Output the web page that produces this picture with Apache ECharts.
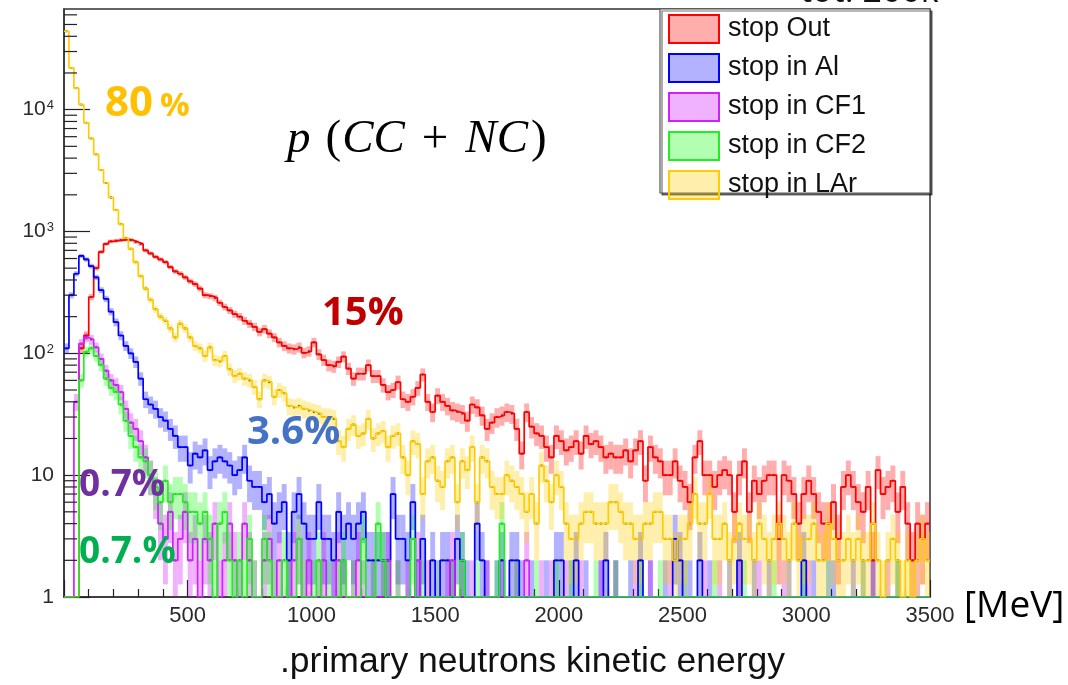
<!DOCTYPE html>
<html><head><meta charset="utf-8">
<script src="https://cdn.jsdelivr.net/npm/echarts@6/dist/echarts.min.js"></script>
<style>html,body{margin:0;padding:0;background:#fff}#c{width:1068px;height:685px}</style>
</head><body><div id="c"></div>
<script>
// ---- data (counts per 20 MeV bin, 0..3500 MeV) ----
const BIN_WIDTH = 20;
const X_MIN = 0, X_MAX = 3500;
const Y_MIN = 1, Y_MAX = 67000;
const seriesNames = ['stop Out', 'stop in Al', 'stop in CF1', 'stop in CF2', 'stop in LAr'];

const stopOut = [
  0, 0, 0, 110, 140, 290, 500, 680, 790, 830,
  840, 850, 860, 850, 820, 790, 700, 660, 620, 590,
  560, 510, 470, 450, 420, 390, 370, 340, 300, 295,
  285, 260, 240, 225, 210, 200, 185, 175, 165, 150,
  158, 145, 135, 123, 115, 110, 108, 112, 101, 104,
  123, 98, 88, 80, 78, 85, 94, 75, 62, 68,
  68, 80, 65, 65, 55, 48, 50, 58, 42, 40,
  44, 52, 67, 40, 33, 45, 40, 37, 34, 33,
  32, 28, 38, 36, 31, 24, 27, 30, 31, 33,
  32, 24, 15, 33, 25, 22, 21, 17, 14, 21,
  19, 16, 17, 19, 15, 21, 18, 19, 17, 14,
  15, 14, 14, 16, 13, 16, 19, 9, 17, 14,
  13, 10, 10, 13, 9, 8, 6, 14, 19, 10,
  10, 8, 10, 11, 10, 5, 10, 13, 5, 9,
  7, 9, 10, 10, 3, 10, 9, 7, 4, 7,
  9, 7, 5, 4, 4, 6, 3, 8, 10, 8,
  6, 5, 8, 2, 11, 7, 8, 9, 5, 8,
  4, 2, 4, 3, 4
];
const stopAl = [
  110, 300, 450, 630, 590, 520, 420, 330, 280, 220,
  180, 140, 115, 100, 85, 62, 42, 38, 35, 30,
  28, 24, 21, 17, 17, 12, 15, 14, 16, 11,
  13, 14, 13, 12, 10, 11, 14, 9, 8, 8,
  6, 7, 4, 5, 6, 2, 5, 7, 4, 3,
  3, 6, 3, 3, 2, 5, 3, 4, 3, 4,
  5, 2, 2, 2, 2, 2, 7, 3, 3, 2,
  6, 1, 3, 0, 2, 0, 2, 2, 1, 3,
  2, 1, 0, 4, 2, 1, 0, 1, 2, 0,
  2, 2, 1, 0, 1, 0, 0, 1, 0, 2,
  2, 0, 1, 2, 0, 1, 0, 0, 1, 2,
  0, 1, 0, 0, 1, 0, 2, 0, 1, 0,
  0, 1, 0, 3, 2, 0, 1, 0, 2, 0,
  1, 0, 0, 0, 1, 0, 2, 0, 0, 1,
  0, 0, 1, 0, 0, 0, 1, 0, 0, 2,
  0, 1, 0, 0, 0, 1, 0, 0, 0, 1,
  0, 0, 0, 1, 0, 0, 0, 0, 1, 0,
  0, 0, 0, 0, 0
];
const stopCF1 = [
  0, 0, 40, 120, 135, 130, 112, 90, 72, 60,
  55, 48, 35, 27, 24, 19, 14, 10, 7, 4,
  3, 5, 2, 3, 5, 2, 3, 1, 3, 2,
  4, 1, 2, 4, 2, 1, 4, 2, 1, 0,
  2, 3, 1, 2, 0, 1, 2, 3, 1, 2,
  0, 1, 2, 0, 1, 2, 1, 0, 1, 2,
  1, 0, 1, 0, 1, 2, 0, 1, 0, 1,
  0, 2, 0, 1, 0, 1, 0, 1, 2, 0,
  1, 0, 1, 0, 0, 1, 0, 0, 1, 0,
  0, 1, 0, 2, 0, 0, 1, 0, 1, 0,
  0, 1, 0, 0, 1, 0, 0, 0, 1, 0,
  0, 1, 0, 0, 0, 1, 0, 0, 1, 0,
  0, 0, 1, 0, 0, 1, 0, 0, 0, 1,
  0, 0, 1, 0, 0, 0, 1, 0, 0, 0,
  1, 0, 0, 0, 0, 1, 0, 0, 0, 0,
  1, 0, 0, 0, 1, 0, 0, 0, 0, 0,
  0, 1, 0, 0, 0, 0, 1, 0, 0, 0,
  0, 0, 1, 0, 0
];
const stopCF2 = [
  0, 0, 0, 60, 103, 110, 95, 80, 62, 52,
  48, 38, 28, 21, 17, 14, 13, 10, 8, 6,
  9, 6, 7, 7, 6, 5, 5, 4, 5, 3,
  1, 4, 5, 2, 1, 2, 1, 3, 1, 0,
  3, 2, 1, 0, 2, 1, 0, 3, 1, 0,
  1, 2, 0, 1, 0, 1, 2, 0, 1, 0,
  3, 0, 1, 4, 2, 1, 0, 1, 0, 0,
  3, 0, 1, 0, 0, 1, 0, 0, 1, 0,
  2, 0, 0, 1, 0, 0, 0, 1, 4, 0,
  0, 1, 0, 0, 0, 1, 0, 0, 0, 1,
  0, 0, 1, 0, 0, 0, 0, 1, 0, 0,
  0, 1, 0, 0, 0, 0, 1, 0, 0, 0,
  1, 0, 0, 0, 0, 1, 0, 0, 0, 0,
  0, 1, 0, 0, 0, 0, 0, 1, 0, 0,
  0, 0, 0, 1, 0, 0, 0, 0, 0, 1,
  0, 0, 0, 0, 1, 0, 0, 0, 0, 0,
  0, 1, 0, 0, 0, 0, 0, 0, 1, 0,
  0, 0, 0, 0, 0
];
const stopLAr = [
  44000, 22000, 15000, 11000, 7800, 5800, 4300, 3200, 2500, 1900,
  1500, 1150, 880, 720, 560, 430, 340, 275, 230, 200,
  185, 160, 135, 175, 160, 135, 115, 110, 95, 112,
  88, 86, 95, 74, 65, 68, 62, 60, 53, 42,
  60, 58, 44, 50, 47, 37, 36, 37, 35, 34,
  33, 32, 30, 30, 29, 19, 17, 24, 26, 21,
  22, 29, 20, 22, 23, 17, 21, 22, 14, 10,
  19, 18, 7, 13, 14, 9, 8, 13, 14, 6,
  13, 11, 17, 6, 14, 13, 8, 7, 7, 10,
  9, 8, 7, 5, 7, 4, 12, 9, 6, 10,
  8, 4, 3, 3, 4, 5, 5, 4, 4, 4,
  6, 6, 5, 4, 4, 3, 3, 4, 4, 5,
  5, 3, 3, 2, 3, 3, 4, 7, 4, 4,
  7, 3, 3, 4, 2, 3, 4, 3, 3, 2,
  4, 3, 2, 3, 4, 3, 2, 4, 2, 3,
  3, 4, 2, 2, 4, 3, 2, 2, 3, 2,
  3, 2, 2, 4, 2, 1, 2, 3, 2, 1,
  2, 1, 2, 3, 2
];
const datasets = [stopOut, stopAl, stopCF1, stopCF2, stopLAr];

const lineColors = ['#ff0000', '#0000ff', '#cc22ff', '#22ee22', '#ffcc00'];
const bandColors = ['rgba(255,0,0,0.32)', 'rgba(0,0,255,0.3)', 'rgba(204,0,255,0.3)', 'rgba(0,255,0,0.3)', 'rgba(255,204,0,0.32)'];

// ---- build series ----
const series = [];
datasets.forEach((vals, k) => {
  const name = seriesNames[k];
  const bandData = [];
  const lineData = [];
  const markData = [];
  vals.forEach((v, i) => {
    const x0 = X_MIN + i * BIN_WIDTH, x1 = x0 + BIN_WIDTH;
    if (v > 0) bandData.push([x0, x1, v]);
    lineData.push([x0, Math.max(v, Y_MIN)]);
    if (v > 0) markData.push([x0 + BIN_WIDTH / 2, Math.max(v, Y_MIN)]);
  });
  lineData.push([X_MIN + vals.length * BIN_WIDTH, Math.max(vals[vals.length - 1], Y_MIN)]);
  series.push({
    name, type: 'custom', silent: true,
    data: bandData,
    encode: { x: [0, 1], y: 2 },
    renderItem: (params, api) => {
      const a = api.value(0), b = api.value(1), v = api.value(2);
      const e = Math.sqrt(v);
      const hi = Math.min(v + e, Y_MAX);
      const lo = Math.max(v - e, Y_MIN);
      const p1 = api.coord([a, hi]);
      const p2 = api.coord([b, lo]);
      return { type: 'rect', shape: { x: p1[0], y: p1[1], width: p2[0] - p1[0], height: p2[1] - p1[1] },
        style: { fill: bandColors[k] } };
    }
  });
  series.push({
    name, type: 'line', step: 'end', data: lineData, showSymbol: false, silent: true,
    lineStyle: { color: lineColors[k], width: 1.7 }, itemStyle: { color: lineColors[k] }
  });
  series.push({
    name, type: 'scatter', data: markData, symbol: 'rect', symbolSize: [2, 2], silent: true,
    itemStyle: { color: '#222' }
  });
});

// y-axis minor ticks at 2..9 x 10^k (drawn through the axis scale)
const minorTickValues = [];
for (let e = 0; e <= 4; e++) for (let m = 2; m <= 9; m++) { const t = m * Math.pow(10, e); if (t < Y_MAX) minorTickValues.push([X_MIN, t]); }
series.push({
  type: 'custom', silent: true, data: minorTickValues, encode: { x: 0, y: 1 }, z: 5,
  renderItem: (params, api) => {
    const p = api.coord([api.value(0), api.value(1)]);
    return { type: 'line', shape: { x1: p[0], y1: p[1], x2: p[0] + 13, y2: p[1] }, style: { stroke: '#222', lineWidth: 1.2 } };
  }
});

const chart = echarts.init(document.getElementById('c'), null, { renderer: 'canvas' });
chart.setOption({
  animation: false,
  backgroundColor: '#fff',
  grid: { left: 64, right: 138, top: 9, bottom: 88, show: true, borderColor: '#333', borderWidth: 1.5 },
  xAxis: {
    type: 'value', min: X_MIN, max: X_MAX, interval: 500,
    axisLine: { show: true, lineStyle: { color: '#333', width: 1.5 } },
    axisTick: { inside: true, length: 17, lineStyle: { color: '#222', width: 1.2 } },
    minorTick: { show: true, splitNumber: 5, length: 8, lineStyle: { color: '#222', width: 1.2 } },
    splitLine: { show: false },
    axisLabel: { margin: 8, color: '#2a2a2a', fontSize: 22, fontFamily: 'Liberation Sans',
      formatter: v => (v === 0 ? '' : String(v)) }
  },
  yAxis: {
    type: 'log', logBase: 10, min: Y_MIN, max: Y_MAX,
    axisLine: { show: true, lineStyle: { color: '#333', width: 1.5 } },
    axisTick: { inside: true, length: 26, lineStyle: { color: '#222', width: 1.2 } },
    splitLine: { show: false },
    axisLabel: {
      margin: 10, color: '#2a2a2a', fontSize: 21, fontFamily: 'Liberation Sans', showMaxLabel: false,
      formatter: v => {
        const e = Math.round(Math.log10(v));
        if (Math.abs(Math.pow(10, e) - v) > 1e-6 * v) return '';
        if (e === 0) return '{b|1}';
        if (e === 1) return '{b|10}';
        return '{b|10}{s|' + e + '}';
      },
      rich: {
        b: { fontSize: 21, fontFamily: 'Liberation Sans', color: '#2a2a2a' },
        s: { fontSize: 13, fontFamily: 'Liberation Sans', color: '#2a2a2a', padding: [0, 0, 8, 1] }
      }
    }
  },
  legend: {
    orient: 'vertical', left: 660, top: 9, z: 20,
    padding: [5, 8, 3, 8], itemWidth: 50, itemHeight: 28, itemGap: 9,
    selectedMode: false,
    textStyle: { fontSize: 27, fontFamily: 'Liberation Sans', color: '#111', padding: [0, 0, 0, 4] },
    data: seriesNames.map((n, k) => ({
      name: n, icon: 'rect',
      itemStyle: { color: bandColors[k], borderColor: lineColors[k], borderWidth: 2 }
    }))
  },
  graphic: [
    { type: 'rect', z: 10, shape: { x: 660, y: 9, width: 270, height: 184 },
      style: { fill: '#fff', stroke: '#555', lineWidth: 1.2, shadowColor: 'rgba(0,0,0,0.55)', shadowOffsetX: 2, shadowOffsetY: 2, shadowBlur: 0 } },
    { type: 'text', z: 30, x: 800, y: 9, style: { text: 'tot: 200k', fontSize: 34, fontFamily: 'Open Sans', fill: '#111', align: 'left', verticalAlign: 'bottom' } },
    { type: 'text', z: 30, x: 105, y: 104, style: { text: '80', fontSize: 42, fontWeight: 'bold', fontFamily: 'Open Sans', fill: '#FFC000', align: 'left', verticalAlign: 'middle' } },
    { type: 'text', z: 30, x: 160, y: 107, style: { text: '%', fontSize: 33, fontWeight: 'bold', fontFamily: 'Open Sans', fill: '#FFC000', align: 'left', verticalAlign: 'middle' } },
    { type: 'text', z: 30, x: 322, y: 314, style: { text: '15%', fontSize: 40, fontWeight: 'bold', fontFamily: 'Open Sans', fill: '#C00000', align: 'left', verticalAlign: 'middle' } },
    { type: 'text', z: 30, x: 247, y: 433, style: { text: '3.6%', fontSize: 40, fontWeight: 'bold', fontFamily: 'Open Sans', fill: '#4472C4', align: 'left', verticalAlign: 'middle' } },
    { type: 'text', z: 30, x: 79, y: 485, style: { text: '0.7%', fontSize: 37, fontWeight: 'bold', fontFamily: 'Open Sans', fill: '#7030A0', align: 'left', verticalAlign: 'middle' } },
    { type: 'text', z: 30, x: 79, y: 552, style: { text: '0.7.%', fontSize: 37, fontWeight: 'bold', fontFamily: 'Open Sans', fill: '#00B050', align: 'left', verticalAlign: 'middle' } },
    { type: 'text', z: 30, x: 287, y: 140, style: {
      text: '{i|p}{o|(}{i|CC}{p|+}{i|NC}{c|)}', align: 'left', verticalAlign: 'middle',
      rich: {
        i: { fontSize: 47, fontStyle: 'italic', fontFamily: 'Liberation Serif', fill: '#000' },
        o: { fontSize: 47, fontFamily: 'Liberation Serif', fill: '#000', padding: [0, 1, 0, 15] },
        c: { fontSize: 47, fontFamily: 'Liberation Serif', fill: '#000', padding: [0, 0, 0, 3] },
        p: { fontSize: 47, fontFamily: 'Liberation Serif', fill: '#000', padding: [0, 17, 0, 17] }
      }, fontSize: 47, fontFamily: 'Liberation Serif' } },
    { type: 'text', z: 30, x: 964, y: 606, style: { text: '[MeV]', fontSize: 37, fontFamily: 'Open Sans', fill: '#000', align: 'left', verticalAlign: 'middle' } },
    { type: 'text', z: 30, x: 280, y: 662, style: { text: '.primary neutrons kinetic energy', fontSize: 35.5, fontFamily: 'Liberation Sans', fill: '#111', align: 'left', verticalAlign: 'middle' } }
  ],
  series
});
</script>
</body></html>
